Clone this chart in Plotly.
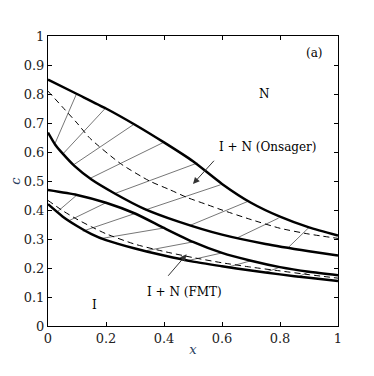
# Phase diagram (a): I + N coexistence, Onsager vs FMT
import plotly.graph_objects as go

# Data

# Onsager binodals
ons_upper_x = [0, 0.1, 0.2, 0.3, 0.4, 0.5, 0.6, 0.7, 0.8, 0.9, 1.0]
ons_upper_c = [0.85, 0.80, 0.75, 0.694, 0.633, 0.568, 0.49, 0.425, 0.377, 0.34, 0.312]
ons_lower_x = [0, 0.025, 0.05, 0.09, 0.15, 0.23, 0.33, 0.45, 0.6, 0.75, 0.9, 1.0]
ons_lower_c = [0.667, 0.625, 0.595, 0.553, 0.505, 0.457, 0.405, 0.36, 0.315, 0.283, 0.258, 0.243]
ons_dash_x = [0, 0.05, 0.1, 0.145, 0.25, 0.35, 0.42, 0.48, 0.55, 0.6, 0.7, 0.8, 0.9, 1.0]
ons_dash_c = [0.81, 0.755, 0.70, 0.647, 0.56, 0.50, 0.47, 0.443, 0.418, 0.40, 0.367, 0.337, 0.317, 0.302]

# Onsager tie lines: (x_I, c_I) -> (x_N, c_N)
ons_tie_x0 = [0.024, 0.053, 0.087, 0.145, 0.231, 0.335, 0.49, 0.655, 0.83]
ons_tie_c0 = [0.629, 0.595, 0.555, 0.509, 0.457, 0.40, 0.347, 0.305, 0.272]
ons_tie_x1 = [0.099, 0.197, 0.294, 0.398, 0.515, 0.595, 0.69, 0.795, 0.9]
ons_tie_c1 = [0.802, 0.75, 0.694, 0.633, 0.562, 0.487, 0.43, 0.372, 0.34]

# FMT binodals
fmt_upper_x = [0, 0.1, 0.2, 0.3, 0.4, 0.5, 0.6, 0.7, 0.8, 0.9, 1.0]
fmt_upper_c = [0.469, 0.452, 0.425, 0.388, 0.338, 0.29, 0.252, 0.225, 0.203, 0.187, 0.175]
fmt_lower_x = [0, 0.05, 0.1, 0.15, 0.2, 0.3, 0.4, 0.5, 0.6, 0.7, 0.8, 0.9, 1.0]
fmt_lower_c = [0.42, 0.378, 0.345, 0.317, 0.296, 0.267, 0.243, 0.222, 0.206, 0.191, 0.178, 0.166, 0.155]
fmt_dash_x = [0, 0.05, 0.1, 0.15, 0.2, 0.3, 0.4, 0.5, 0.6, 0.7, 0.8, 0.9, 1.0]
fmt_dash_c = [0.433, 0.398, 0.368, 0.342, 0.318, 0.282, 0.257, 0.236, 0.218, 0.203, 0.19, 0.177, 0.165]

# FMT tie lines
fmt_tie_x0 = [0.03, 0.07, 0.12, 0.18, 0.34, 0.48, 0.62, 0.75, 0.86]
fmt_tie_c0 = [0.392, 0.362, 0.327, 0.301, 0.26, 0.225, 0.203, 0.185, 0.168]
fmt_tie_x1 = [0.1, 0.2, 0.3, 0.4, 0.5, 0.6, 0.7, 0.8, 0.9]
fmt_tie_c1 = [0.452, 0.425, 0.388, 0.338, 0.29, 0.252, 0.225, 0.203, 0.187]

tick_vals = [0, 0.1, 0.2, 0.3, 0.4, 0.5, 0.6, 0.7, 0.8, 0.9, 1]
tick_text = ["0", "0.1", "0.2", "0.3", "0.4", "0.5", "0.6", "0.7", "0.8", "0.9", "1"]
x_tick_vals = [0, 0.2, 0.4, 0.6, 0.8, 1]
x_tick_text = ["0", "0.2", "0.4", "0.6", "0.8", "1"]

SERIF = "DejaVu Serif"

fig = go.Figure()


def add_ties(xs0, cs0, xs1, cs1):
    # one trace per family, separated by None
    tx, ty = [], []
    for a, b, c, d in zip(xs0, cs0, xs1, cs1):
        tx += [a, c, None]
        ty += [b, d, None]
    fig.add_trace(go.Scatter(x=tx, y=ty, mode="lines",
                             line=dict(color="#777777", width=1)))


add_ties(ons_tie_x0, ons_tie_c0, ons_tie_x1, ons_tie_c1)
add_ties(fmt_tie_x0, fmt_tie_c0, fmt_tie_x1, fmt_tie_c1)

for xs, cs in [(ons_dash_x, ons_dash_c), (fmt_dash_x, fmt_dash_c)]:
    fig.add_trace(go.Scatter(x=xs, y=cs, mode="lines",
                             line=dict(color="black", width=1, dash="6px,4px",
                                       shape="spline", smoothing=0.6)))

for xs, cs in [(ons_upper_x, ons_upper_c), (ons_lower_x, ons_lower_c),
               (fmt_upper_x, fmt_upper_c), (fmt_lower_x, fmt_lower_c)]:
    fig.add_trace(go.Scatter(x=xs, y=cs, mode="lines",
                             line=dict(color="black", width=2.5,
                                       shape="spline", smoothing=0.6)))

# Labels
text_font = dict(family=SERIF, size=12, color="black")
labels = [
    (0.92, 0.94, "(a)"),
    (0.748, 0.80, "N"),
    (0.76, 0.618, "I + N (Onsager)"),
    (0.47, 0.118, "I + N (FMT)"),
    (0.162, 0.072, "I"),
]
for lx, ly, txt in labels:
    fig.add_annotation(x=lx, y=ly, text=txt, showarrow=False, font=text_font)

# Arrows
arrows = [
    (0.50, 0.49, 0.577, 0.575),
    (0.478, 0.247, 0.41, 0.168),
]
for hx, hy, tx, ty in arrows:
    fig.add_annotation(x=hx, y=hy, ax=tx, ay=ty, axref="x", ayref="y",
                       text="", showarrow=True, arrowhead=2, arrowsize=1.3,
                       arrowwidth=1, arrowcolor="#333333")

axis_common = dict(showline=True, linecolor="black", linewidth=1, mirror="ticks",
                   ticks="inside", ticklen=4, tickcolor="black", showgrid=False,
                   zeroline=False, automargin=False,
                   tickfont=dict(family=SERIF, size=13, color="#222222"))

# the page body adds an 8 px margin, so the figure is a bit smaller than the window
fig.update_layout(
    width=366, height=368,
    margin=dict(l=40, r=36, t=28, b=50),
    paper_bgcolor="white", plot_bgcolor="white",
    showlegend=False,
    xaxis=dict(range=[0, 1], tickvals=x_tick_vals, ticktext=x_tick_text,
               title=dict(text="<i>x</i>", font=dict(family=SERIF, size=13), standoff=0),
               **axis_common),
    yaxis=dict(range=[0, 1], tickvals=tick_vals, ticktext=tick_text,
               title=dict(text="<i>c</i>", font=dict(family=SERIF, size=13), standoff=9),
               **axis_common),
)

fig.write_html("out.html")
